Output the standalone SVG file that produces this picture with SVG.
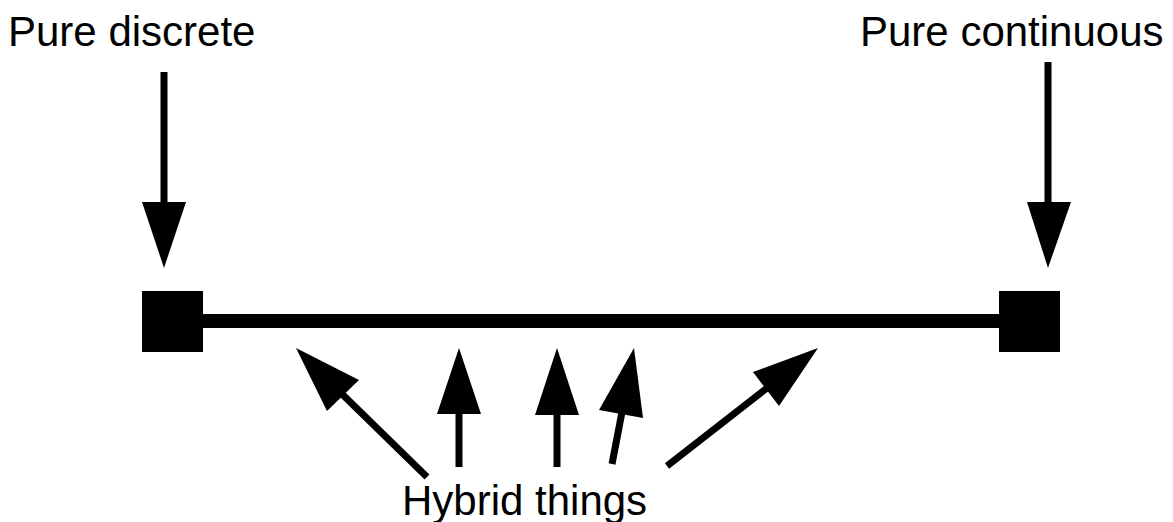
<svg xmlns="http://www.w3.org/2000/svg" width="1173" height="522" viewBox="0 0 1173 522">
<style>
.lbl{font-family:"Liberation Sans",Arial,sans-serif;font-size:42px;fill:#000}
.shaft{stroke:#000;stroke-width:7;fill:none}
.head{fill:#000;stroke:none}
.blk{fill:#000}
</style>
<rect width="1173" height="522" fill="#fff"/>
<g id="spectrum">
<rect class="blk" x="200" y="314" width="802" height="14"/>
</g>
<g id="node-discrete">
<rect class="blk" x="142" y="291" width="61" height="61"/>
<text class="lbl" x="8" y="46">Pure discrete</text>
</g>
<g id="node-continuous">
<rect class="blk" x="999" y="291" width="61" height="61"/>
<text class="lbl" x="860" y="46">Pure continuous</text>
</g>
<g id="node-hybrid">
<text class="lbl" x="402" y="515">Hybrid things</text>
</g>
<g id="connectors">
<line class="shaft" x1="164" y1="72" x2="164" y2="203"/>
<polygon class="head" points="142,202 186,202 164,268"/>
<line class="shaft" x1="1048" y1="62" x2="1048" y2="203"/>
<polygon class="head" points="1027,202 1071,202 1048,268"/>
<line class="shaft" x1="427" y1="477" x2="342" y2="394"/>
<polygon class="head" points="359,380 327,411 296,348"/>
<line class="shaft" x1="459" y1="467" x2="459" y2="413"/>
<polygon class="head" points="437,414 481,414 459,348"/>
<line class="shaft" x1="557" y1="467" x2="557" y2="414"/>
<polygon class="head" points="535,415 579,415 557,348"/>
<line class="shaft" x1="612" y1="464" x2="622" y2="412"/>
<polygon class="head" points="599,410 643,418 634,348"/>
<line class="shaft" x1="667" y1="466" x2="767" y2="388"/>
<polygon class="head" points="753,372 779,406 818,348"/>
</g>
</svg>
